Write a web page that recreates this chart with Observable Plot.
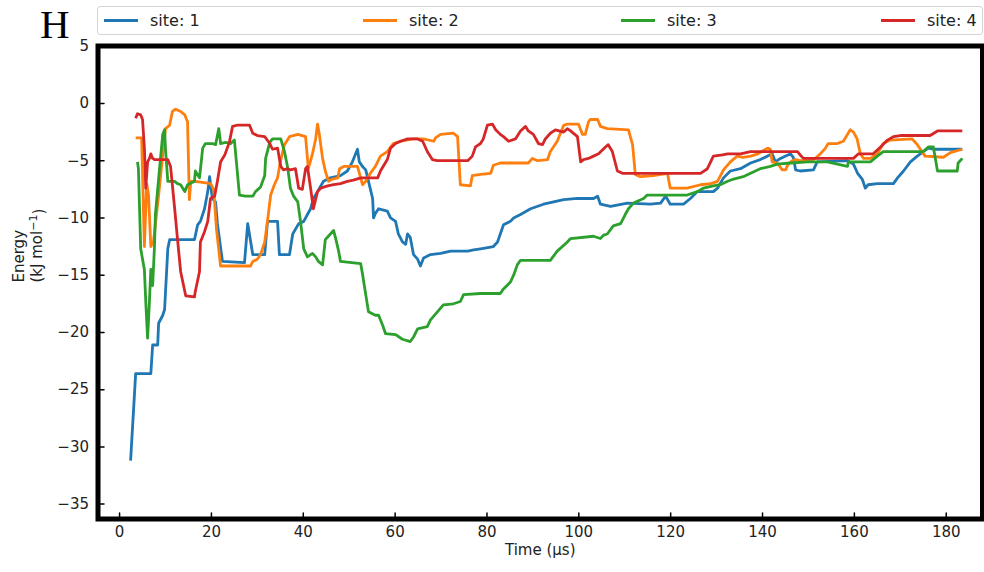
<!DOCTYPE html>
<html><head><meta charset="utf-8">
<script src="https://cdn.jsdelivr.net/npm/d3@7"></script>
<script src="https://cdn.jsdelivr.net/npm/@observablehq/plot@0.6"></script>
<style>
body{margin:0;background:#fff;font-family:"DejaVu Sans",sans-serif;}
#wrap{position:relative;width:984px;height:572px;overflow:hidden;}
#head{position:relative;width:984px;height:30px;z-index:2;}
#H{position:absolute;left:40px;top:0px;font-family:"Liberation Serif",serif;font-size:41px;line-height:normal;color:#000;z-index:3;}
#legend{position:absolute;left:97px;top:6px;width:886px;height:29px;border:1px solid #d4d4d4;border-radius:3px;box-sizing:border-box;background:#fff;}
.item{position:absolute;top:0;height:27px;display:flex;align-items:center;font-size:16px;color:#222;white-space:nowrap;}
.sw{width:34px;height:3px;margin-right:12px;}
#chart svg{display:block;}
</style>
</head><body>
<div id="wrap">
<div id="H">H</div>
<div id="head"><div id="legend"></div></div>
<div id="chart"></div>
</div>
<script>
const siteNames = ["site: 1", "site: 2", "site: 3", "site: 4"];
const siteColors = ["#1f77b4", "#ff7f0e", "#2ca02c", "#d62728"];
const xTicks = [0, 20, 40, 60, 80, 100, 120, 140, 160, 180];
const yTicks = [5, 0, -5, -10, -15, -20, -25, -30, -35];
const xDomain = [-4.7, 187.9];
const yDomain = [-36.3, 5.02];

// [time (µs), energy (kJ/mol)]
const site1 = [[2.4,-31.2],[3.5,-23.6],[6.8,-23.6],[7.2,-21.1],[8.3,-21.1],[8.5,-19.2],[9.4,-18.5],[9.8,-18.0],[10.5,-12.7],[10.9,-11.9],[16.3,-11.9],[17.0,-10.6],[17.6,-10.3],[18.5,-9.2],[19.2,-7.7],[19.6,-6.4],[20.2,-8.3],[20.9,-8.6],[21.3,-10.5],[22.4,-13.8],[27.2,-13.9],[27.9,-10.5],[29.0,-13.2],[31.6,-13.2],[32.2,-10.3],[34.4,-10.3],[34.8,-13.2],[37.0,-13.2],[37.7,-11.4],[39.0,-10.5],[40.1,-10.3],[40.9,-9.7],[41.6,-9.2],[42.2,-8.3],[43.1,-7.7],[44.4,-6.8],[45.9,-6.5],[48.1,-6.3],[49.6,-5.9],[50.7,-5.1],[51.8,-4.0],[52.2,-5.1],[52.9,-5.5],[53.6,-5.8],[54.2,-6.8],[55.1,-8.3],[55.3,-10.0],[55.7,-9.6],[56.4,-9.2],[58.3,-9.4],[59.0,-10.0],[60.1,-10.3],[60.7,-11.4],[61.6,-12.1],[62.3,-12.3],[62.7,-11.4],[63.3,-11.7],[64.0,-13.2],[64.9,-13.6],[65.5,-14.2],[66.2,-13.5],[67.7,-13.2],[69.9,-13.1],[72.1,-12.9],[75.8,-12.9],[77.1,-12.8],[78.6,-12.7],[81.4,-12.5],[82.3,-12.1],[82.9,-11.4],[83.6,-10.6],[85.1,-10.3],[85.8,-10.0],[87.3,-9.7],[89.5,-9.2],[92.3,-8.8],[94.5,-8.6],[96.7,-8.4],[99.7,-8.3],[103.2,-8.3],[104.1,-8.1],[104.7,-8.8],[106.9,-9.0],[110.6,-8.7],[115.6,-8.8],[117.8,-8.7],[118.9,-8.1],[119.9,-8.8],[122.8,-8.8],[124.3,-8.3],[125.8,-7.7],[129.3,-7.7],[130.2,-7.4],[131.5,-6.5],[133.0,-5.9],[135.2,-5.7],[137.4,-5.2],[139.5,-4.9],[141.1,-4.6],[142.1,-4.4],[142.8,-5.1],[143.9,-4.8],[146.1,-4.4],[146.7,-4.7],[147.2,-5.8],[148.2,-5.9],[151.1,-5.8],[151.9,-5.1],[158.5,-5.0],[159.8,-5.3],[160.7,-6.1],[161.7,-6.6],[162.4,-7.4],[163.0,-7.1],[165.0,-7.0],[168.5,-7.0],[169.4,-6.5],[170.7,-5.9],[172.2,-5.1],[173.7,-4.6],[175.0,-4.2],[176.1,-3.9],[177.2,-4.0],[183.5,-4.0]];

const site2 = [[3.5,-3.0],[4.8,-3.0],[5.4,-12.5],[5.9,-7.0],[6.3,-8.0],[6.8,-12.5],[7.4,-12.0],[8.5,-8.0],[9.4,-4.5],[10.0,-2.2],[10.9,-1.9],[11.5,-0.7],[12.2,-0.5],[13.3,-0.7],[14.2,-1.0],[14.8,-1.6],[15.2,-8.4],[15.5,-6.8],[16.5,-6.8],[19.8,-7.0],[20.5,-7.5],[21.1,-11.0],[22.0,-14.2],[28.5,-14.2],[29.0,-13.8],[30.0,-13.6],[30.7,-13.2],[31.6,-12.1],[32.2,-10.3],[32.9,-8.0],[33.7,-7.1],[34.4,-6.5],[35.0,-5.1],[35.9,-3.6],[37.0,-2.9],[38.8,-2.7],[40.5,-2.9],[41.1,-5.7],[42.0,-4.4],[42.7,-3.1],[43.1,-1.8],[43.5,-2.7],[44.2,-4.8],[44.8,-5.9],[45.5,-6.8],[46.4,-6.6],[47.5,-6.5],[47.9,-5.7],[48.8,-5.5],[51.8,-5.5],[52.9,-7.1],[53.6,-6.8],[54.6,-6.1],[55.7,-5.5],[56.8,-4.6],[58.3,-4.2],[59.6,-3.5],[61.2,-3.3],[64.0,-3.1],[66.2,-3.1],[68.4,-3.3],[68.8,-3.0],[69.9,-2.7],[72.7,-2.6],[73.6,-2.9],[74.2,-7.1],[76.4,-7.2],[76.8,-6.3],[78.6,-6.2],[80.8,-6.1],[81.4,-5.4],[82.9,-5.2],[89.0,-5.2],[89.9,-4.8],[91.0,-5.0],[93.2,-4.9],[93.8,-4.2],[95.3,-3.3],[96.7,-1.9],[97.5,-1.8],[99.9,-1.8],[100.8,-2.7],[101.4,-2.7],[102.1,-1.6],[102.5,-1.4],[104.1,-1.4],[104.7,-2.0],[106.2,-2.2],[110.8,-2.3],[111.7,-3.6],[112.3,-6.2],[113.4,-6.4],[116.2,-6.3],[119.3,-6.1],[119.9,-7.4],[123.6,-7.4],[126.5,-7.1],[128.7,-7.0],[130.2,-6.8],[131.5,-5.8],[133.0,-5.1],[134.5,-4.6],[135.8,-4.7],[137.4,-4.6],[139.0,-4.4],[141.1,-3.9],[141.7,-4.0],[142.1,-5.1],[143.2,-5.2],[144.3,-5.8],[145.0,-5.8],[145.6,-5.3],[146.5,-5.0],[147.2,-4.9],[148.2,-5.0],[150.4,-5.0],[151.5,-4.8],[152.6,-4.4],[153.7,-3.9],[154.3,-3.5],[156.3,-3.5],[157.6,-3.3],[158.5,-2.7],[159.1,-2.3],[159.8,-2.5],[160.6,-3.1],[161.3,-4.4],[162.0,-4.8],[163.5,-4.8],[165.0,-4.4],[166.3,-3.5],[167.8,-3.2],[172.6,-3.1],[173.7,-3.6],[175.4,-4.6],[179.4,-4.7],[180.9,-4.3],[183.5,-4.0]];

const site3 = [[3.9,-5.1],[4.1,-5.7],[4.6,-12.7],[5.0,-13.6],[5.4,-14.5],[5.7,-17.3],[6.1,-20.5],[6.5,-17.3],[6.8,-14.5],[7.2,-15.9],[7.6,-12.5],[7.8,-9.7],[8.7,-5.7],[9.4,-2.7],[9.8,-2.3],[10.0,-4.0],[10.5,-6.8],[12.0,-6.8],[12.6,-7.0],[13.3,-7.1],[14.2,-7.7],[14.8,-7.1],[16.3,-6.8],[16.5,-5.9],[17.4,-6.5],[18.1,-3.9],[18.7,-3.5],[20.2,-3.5],[20.9,-3.6],[21.6,-2.2],[22.0,-3.5],[23.1,-3.4],[24.2,-3.5],[25.0,-3.2],[26.1,-8.0],[27.4,-8.1],[29.0,-8.1],[29.6,-7.7],[30.7,-7.3],[31.6,-6.3],[31.8,-4.8],[32.7,-3.4],[33.3,-3.1],[35.1,-3.1],[35.9,-4.2],[36.6,-5.6],[37.2,-7.4],[37.9,-8.1],[38.8,-8.6],[39.4,-10.3],[40.1,-12.7],[40.9,-13.4],[42.0,-13.1],[42.7,-13.4],[43.3,-13.8],[44.2,-14.1],[44.8,-11.9],[45.9,-11.4],[46.6,-11.1],[47.0,-11.7],[47.7,-12.9],[48.1,-13.8],[52.5,-14.0],[52.9,-14.9],[53.6,-16.7],[54.2,-18.2],[55.7,-18.5],[56.4,-18.5],[57.3,-19.4],[57.9,-20.1],[60.1,-20.2],[61.6,-20.6],[63.3,-20.8],[64.0,-20.4],[64.9,-19.7],[67.0,-19.5],[67.7,-18.9],[69.2,-18.2],[70.5,-17.6],[72.7,-17.5],[74.2,-17.3],[74.9,-16.7],[78.6,-16.6],[82.9,-16.6],[83.6,-16.2],[85.1,-15.6],[85.8,-15.0],[86.6,-14.1],[87.3,-13.7],[93.8,-13.7],[95.3,-12.9],[97.5,-12.1],[98.2,-11.8],[103.2,-11.6],[104.7,-11.8],[105.4,-11.5],[106.2,-11.4],[107.5,-10.7],[109.1,-10.5],[110.1,-9.7],[110.8,-9.2],[111.9,-8.7],[114.1,-8.3],[114.9,-8.0],[118.4,-8.0],[123.6,-8.0],[125.8,-7.7],[127.1,-7.4],[129.3,-7.2],[130.8,-7.1],[132.4,-6.8],[133.7,-6.6],[135.8,-6.4],[137.4,-6.1],[139.5,-5.7],[141.7,-5.5],[143.2,-5.3],[146.1,-5.2],[149.8,-5.1],[154.1,-5.1],[156.3,-5.3],[158.5,-5.5],[158.7,-5.1],[163.5,-5.1],[165.0,-4.6],[166.3,-4.2],[175.0,-4.2],[176.1,-3.8],[177.2,-3.8],[178.1,-5.9],[182.4,-5.9],[182.6,-5.2],[183.5,-4.8]];

const site4 = [[3.5,-1.3],[3.9,-0.9],[4.6,-1.0],[5.0,-1.4],[5.4,-3.9],[5.7,-7.4],[6.1,-5.1],[6.5,-4.8],[6.8,-4.4],[7.2,-4.8],[7.6,-4.9],[10.5,-4.9],[11.1,-5.5],[12.0,-9.2],[12.6,-11.8],[13.3,-14.7],[14.4,-16.8],[16.3,-16.9],[16.5,-16.4],[17.4,-14.7],[17.6,-12.1],[18.5,-11.2],[19.2,-10.3],[19.8,-8.3],[20.7,-8.1],[21.3,-6.8],[22.0,-5.1],[22.9,-4.5],[23.9,-3.4],[24.6,-2.0],[25.7,-1.9],[28.3,-1.9],[29.0,-2.6],[30.0,-2.8],[31.6,-2.9],[32.7,-3.5],[33.3,-4.0],[34.4,-3.9],[35.1,-5.5],[35.7,-5.8],[36.6,-5.7],[37.2,-5.8],[38.3,-5.7],[39.0,-7.4],[39.8,-7.5],[40.5,-5.7],[40.9,-5.5],[41.6,-7.4],[42.2,-9.2],[43.1,-7.7],[43.8,-7.4],[45.3,-7.2],[46.6,-7.1],[48.1,-7.0],[49.6,-6.8],[50.9,-6.7],[52.5,-6.5],[56.2,-6.5],[56.8,-5.9],[58.3,-4.9],[59.0,-3.9],[60.1,-3.5],[61.2,-3.3],[62.7,-3.1],[64.9,-3.1],[66.0,-3.3],[67.0,-4.2],[68.1,-4.9],[69.2,-5.0],[75.8,-5.0],[76.8,-4.6],[77.5,-3.8],[78.6,-3.5],[79.2,-3.1],[80.1,-1.9],[81.2,-1.8],[81.9,-2.3],[82.9,-2.7],[83.6,-2.9],[84.7,-3.3],[86.2,-3.1],[87.3,-2.4],[88.4,-2.0],[89.0,-2.4],[90.1,-2.7],[91.2,-3.5],[92.1,-3.6],[92.7,-3.1],[93.8,-2.6],[94.9,-2.3],[96.7,-2.5],[97.5,-2.2],[98.2,-2.4],[99.7,-2.9],[100.4,-5.1],[101.0,-4.9],[102.1,-4.8],[103.2,-4.6],[104.3,-4.4],[105.8,-3.8],[106.4,-3.6],[107.3,-4.2],[108.4,-5.9],[109.5,-6.1],[126.5,-6.1],[128.0,-5.7],[129.3,-4.6],[131.3,-4.5],[132.4,-4.4],[135.2,-4.4],[137.4,-4.2],[147.6,-4.2],[148.2,-4.5],[148.9,-4.8],[159.8,-4.8],[160.9,-4.4],[164.1,-4.4],[165.7,-3.8],[167.2,-3.2],[168.5,-2.9],[170.0,-2.8],[176.5,-2.8],[178.1,-2.4],[183.5,-2.4]];

const series = [site1, site2, site3, site4];
const rows = series.map((s, i) => s.map(([t, e]) => ({t, e, site: siteNames[i]})));

// legend
const legend = document.getElementById("legend");
const legendLeft = [6, 265, 523, 783];
siteNames.forEach((name, i) => {
  const it = document.createElement("div");
  it.className = "item";
  it.style.left = legendLeft[i] + "px";
  const sw = document.createElement("div");
  sw.className = "sw";
  sw.style.background = siteColors[i];
  const tx = document.createElement("span");
  tx.textContent = name;
  it.appendChild(sw); it.appendChild(tx);
  legend.appendChild(it);
});

// straight tick line (no arrowhead)
const tickShape = {draw(context, length) { context.moveTo(0, 0); context.lineTo(0, -length); }};

const chart = Plot.plot({
  width: 984,
  height: 542,
  marginLeft: 97.5,
  marginRight: 2,
  marginTop: 15.5,
  marginBottom: 53.5,
  style: {fontFamily: "DejaVu Sans, sans-serif", fontSize: "15px", color: "#222", background: "transparent"},
  x: {domain: xDomain},
  y: {domain: yDomain},
  color: {domain: siteNames, range: siteColors},
  marks: [
    ...rows.map(r => Plot.line(r, {x: "t", y: "e", stroke: "site", strokeWidth: 2.8, strokeLinejoin: "round", strokeLinecap: "butt"})),
    Plot.axisX({ticks: xTicks, tickSize: 0, tickPadding: 7, label: null, tickFormat: d3.format("d")}),
    Plot.axisY({ticks: yTicks, tickSize: 0, tickPadding: 9, label: null}),
    Plot.vector(yTicks, {y: d => d, frameAnchor: "left", length: 6, rotate: 90, anchor: "start", shape: tickShape, stroke: "#000", strokeWidth: 1.5}),
    Plot.vector(xTicks, {x: d => d, frameAnchor: "bottom", length: 6, rotate: 0, anchor: "start", shape: tickShape, stroke: "#000", strokeWidth: 1.5}),
    Plot.frame({stroke: "#000", strokeWidth: 5}),
    Plot.text(["Time (μs)"], {frameAnchor: "bottom", dy: 36, fontSize: 15, fill: "#222"}),
    Plot.text(["Energy\n(kJ mol⁻¹)"], {frameAnchor: "left", rotate: -90, dx: -71, lineHeight: 1.2, fontSize: 15, fill: "#222"})
  ]
});
document.getElementById("chart").appendChild(chart);

// render the unit with a real superscript
chart.querySelectorAll("text tspan").forEach(ts => {
  if (ts.textContent === "(kJ mol⁻¹)") {
    ts.textContent = "(kJ mol";
    const sup = document.createElementNS("http://www.w3.org/2000/svg", "tspan");
    sup.setAttribute("dy", "-0.45em");
    sup.setAttribute("font-size", "11");
    sup.textContent = "−1";
    const close = document.createElementNS("http://www.w3.org/2000/svg", "tspan");
    close.setAttribute("dy", "0.45em");
    close.textContent = ")";
    ts.after(sup, close);
  }
});
</script>
</body></html>
